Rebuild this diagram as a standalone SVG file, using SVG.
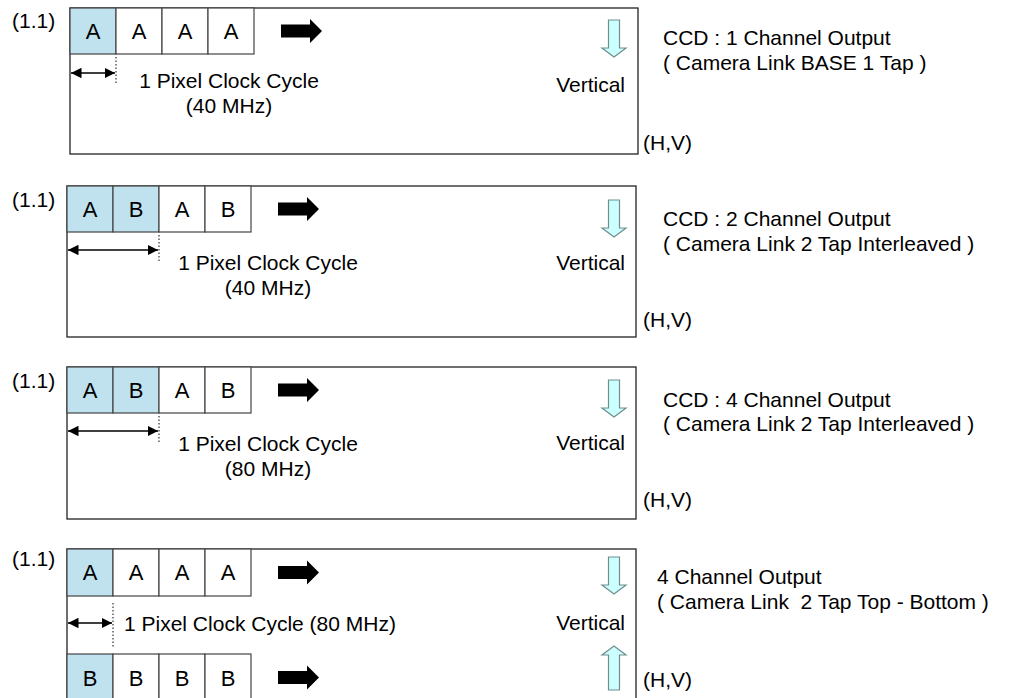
<svg xmlns="http://www.w3.org/2000/svg" width="1016" height="698" viewBox="0 0 1016 698">
<style>
text{font-family:"Liberation Sans",Arial,sans-serif;font-size:21px;fill:#000}
.cl{font-size:22px;text-anchor:middle}
.mid{text-anchor:middle}
.end{text-anchor:end}
.frame{fill:#fff;stroke:#222;stroke-width:1.3}
.cell{fill:#fff;stroke:#444;stroke-width:1.2}
.hl{fill:#c0e2ee}
.blk{fill:#000}
.vert{fill:#ccffff;stroke:#6f8f8f;stroke-width:1.2}
.dim{stroke:#000;stroke-width:1.5;fill:none;marker-start:url(#ah);marker-end:url(#ah)}
.dot{stroke:#333;stroke-width:1.2;stroke-dasharray:1.5 2;fill:none}
</style>
<defs>
<marker id="ah" viewBox="0 0 10 10" refX="10" refY="5" markerWidth="7" markerHeight="7" markerUnits="strokeWidth" orient="auto-start-reverse"><path d="M0,0 L10,5 L0,10 Z" fill="#000"/></marker>
</defs>
<rect width="1016" height="698" fill="#fff"/>

<g id="panel1">
<rect class="frame" x="70" y="8" width="568" height="146"/>
<rect class="cell hl" x="70" y="8" width="46" height="46"/>
<rect class="cell" x="116" y="8" width="46" height="46"/>
<rect class="cell" x="162" y="8" width="46" height="46"/>
<rect class="cell" x="208" y="8" width="46" height="46"/>
<text class="cl" x="93" y="39">A</text><text class="cl" x="139" y="39">A</text><text class="cl" x="185" y="39">A</text><text class="cl" x="231" y="39">A</text>
<text x="12" y="28">(1.1)</text>
<text class="mid" x="229" y="88">1 Pixel Clock Cycle</text>
<text class="mid" x="229" y="113">(40 MHz)</text>
<text class="end" x="625" y="92">Vertical</text>
<text x="643" y="150">(H,V)</text>
<text x="663" y="45">CCD : 1 Channel Output</text>
<text x="663" y="70">( Camera Link BASE 1 Tap )</text>
</g>

<g id="panel2">
<rect class="frame" x="67" y="186" width="569" height="151"/>
<rect class="cell hl" x="67" y="186" width="46" height="46"/>
<rect class="cell hl" x="113" y="186" width="46" height="46"/>
<rect class="cell" x="159" y="186" width="46" height="46"/>
<rect class="cell" x="205" y="186" width="46" height="46"/>
<text class="cl" x="90" y="217">A</text><text class="cl" x="136" y="217">B</text><text class="cl" x="182" y="217">A</text><text class="cl" x="228" y="217">B</text>
<text x="12" y="207">(1.1)</text>
<text class="mid" x="268" y="270">1 Pixel Clock Cycle</text>
<text class="mid" x="268" y="295">(40 MHz)</text>
<text class="end" x="625" y="270">Vertical</text>
<text x="643" y="327">(H,V)</text>
<text x="663" y="226">CCD : 2 Channel Output</text>
<text x="663" y="251">( Camera Link 2 Tap Interleaved )</text>
</g>

<g id="panel3">
<rect class="frame" x="67" y="367" width="569" height="152"/>
<rect class="cell hl" x="67" y="367" width="46" height="46"/>
<rect class="cell hl" x="113" y="367" width="46" height="46"/>
<rect class="cell" x="159" y="367" width="46" height="46"/>
<rect class="cell" x="205" y="367" width="46" height="46"/>
<text class="cl" x="90" y="398">A</text><text class="cl" x="136" y="398">B</text><text class="cl" x="182" y="398">A</text><text class="cl" x="228" y="398">B</text>
<text x="12" y="388">(1.1)</text>
<text class="mid" x="268" y="451">1 Pixel Clock Cycle</text>
<text class="mid" x="268" y="476">(80 MHz)</text>
<text class="end" x="625" y="450">Vertical</text>
<text x="643" y="507">(H,V)</text>
<text x="663" y="407">CCD : 4 Channel Output</text>
<text x="663" y="431">( Camera Link 2 Tap Interleaved )</text>
</g>

<g id="panel4">
<rect class="frame" x="67" y="549" width="569" height="170"/>
<rect class="cell hl" x="67" y="549" width="46" height="47"/>
<rect class="cell" x="113" y="549" width="46" height="47"/>
<rect class="cell" x="159" y="549" width="46" height="47"/>
<rect class="cell" x="205" y="549" width="46" height="47"/>
<rect class="cell hl" x="67" y="654" width="46" height="60"/>
<rect class="cell" x="113" y="654" width="46" height="60"/>
<rect class="cell" x="159" y="654" width="46" height="60"/>
<rect class="cell" x="205" y="654" width="46" height="60"/>
<text class="cl" x="90" y="580">A</text><text class="cl" x="136" y="580">A</text><text class="cl" x="182" y="580">A</text><text class="cl" x="228" y="580">A</text>
<text class="cl" x="90" y="686">B</text><text class="cl" x="136" y="686">B</text><text class="cl" x="182" y="686">B</text><text class="cl" x="228" y="686">B</text>
<text x="12" y="566">(1.1)</text>
<text x="124" y="631">1 Pixel Clock Cycle (80 MHz)</text>
<text class="end" x="625" y="630">Vertical</text>
<text x="643" y="687">(H,V)</text>
<text x="657" y="584">4 Channel Output</text>
<text x="657" y="609">( Camera Link&#160; 2 Tap Top - Bottom )</text>
</g>

<g id="connectors">
<path class="blk" d="M281,24.5 H310 V19 L322,31 L310,43 V37.5 H281 Z"/>
<path class="blk" d="M278,202.5 H307 V197 L319,209 L307,221 V215.5 H278 Z"/>
<path class="blk" d="M278,383.5 H307 V378 L319,390 L307,402 V396.5 H278 Z"/>
<path class="blk" d="M278,566 H307 V560.5 L319,572.5 L307,584.5 V579 H278 Z"/>
<path class="blk" d="M278,671 H307 V665.5 L319,677.5 L307,689.5 V684 H278 Z"/>

<path class="vert" d="M608.5,20 H619.5 V48 H626 L614,57 L602,48 H608.5 Z"/>
<path class="vert" d="M608.5,200 H619.5 V228 H626 L614,237 L602,228 H608.5 Z"/>
<path class="vert" d="M608.5,380 H619.5 V408 H626 L614,417 L602,408 H608.5 Z"/>
<path class="vert" d="M608.5,557 H619.5 V585 H626 L614,594 L602,585 H608.5 Z"/>
<path class="vert" d="M608.5,690 H619.5 V655 H626 L614,646 L602,655 H608.5 Z"/>

<line class="dim" x1="71" y1="73" x2="115" y2="73"/>
<line class="dot" x1="116" y1="57" x2="116" y2="84"/>
<line class="dim" x1="68" y1="250" x2="158" y2="250"/>
<line class="dot" x1="159" y1="235" x2="159" y2="262"/>
<line class="dim" x1="68" y1="431" x2="158" y2="431"/>
<line class="dot" x1="159" y1="416" x2="159" y2="443"/>
<line class="dim" x1="68" y1="623" x2="112" y2="623"/>
<line class="dot" x1="113" y1="603" x2="113" y2="647"/>
</g>
</svg>
